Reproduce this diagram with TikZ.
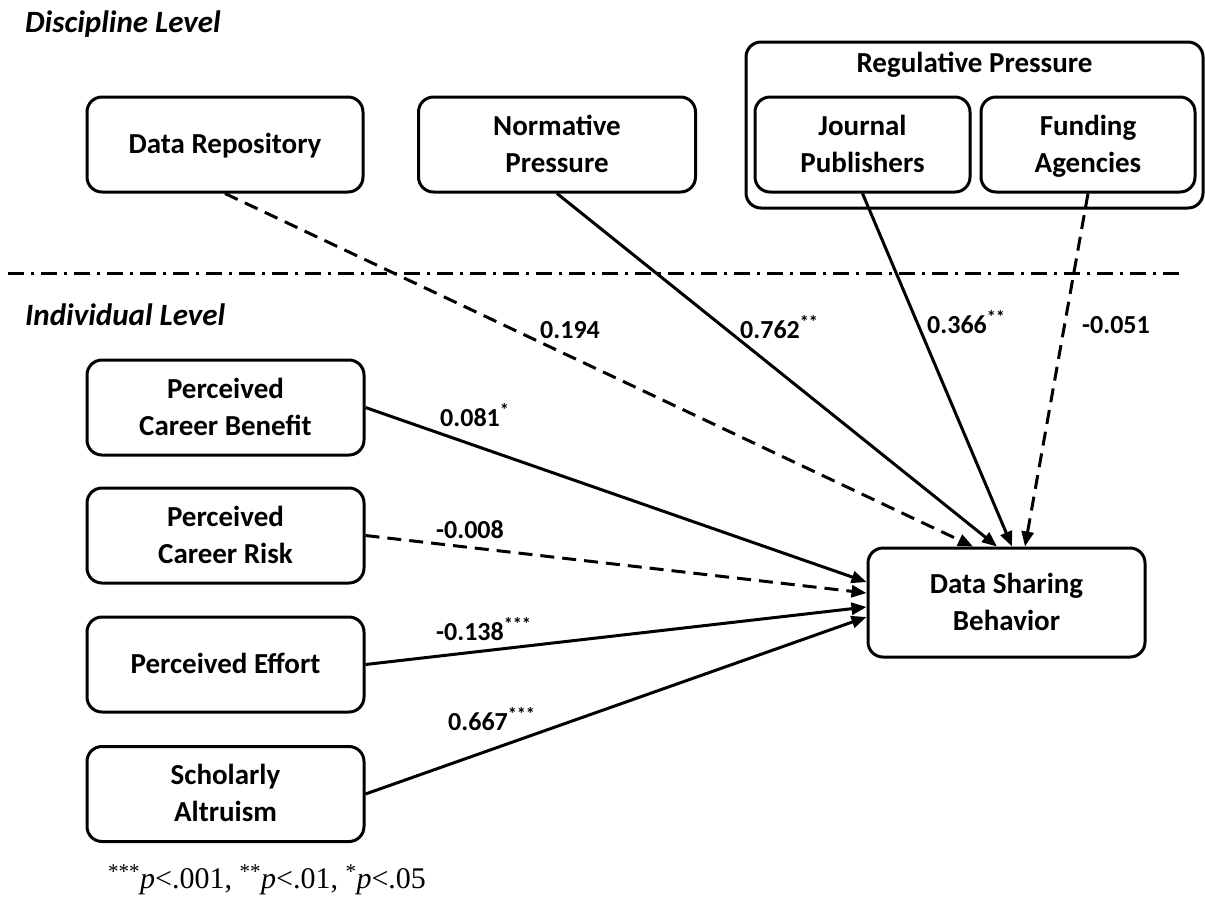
\documentclass[tikz,border=0pt]{standalone}
\usepackage{fontspec}
\setmainfont{Carlito}
\newfontfamily\notefont{Liberation Serif}
\usetikzlibrary{arrows.meta,calc}
% line strut centred on the cap height, so every box row sits alike
\newcommand\lnstrut{\rule[-8pt]{0pt}{34.6pt}}

\begin{document}
\begin{tikzpicture}[x=1pt,y=-1pt,
  box/.style={draw,line width=3pt,rounded corners=15pt,align=center,
    inner sep=0pt,font=\fontsize{29}{37}\selectfont\bfseries},
  group/.style={draw,line width=3pt,rounded corners=15pt,inner sep=0pt},
  heading/.style={anchor=base west,inner sep=0pt,font=\fontsize{31}{31}\selectfont\bfseries\itshape},
  coef/.style={anchor=base west,inner sep=0pt,font=\fontsize{26}{26}\selectfont\bfseries},
  path/.style={line width=3pt,-{Triangle[length=15pt,width=12pt]}},
  nspath/.style={path,dash pattern=on 14pt off 8pt},
  levelline/.style={line width=3pt,dash pattern=on 16pt off 7pt on 3pt off 7pt}]
\useasboundingbox (0,0) rectangle (1205,922);

% level headings and the dividing line
\node[heading] (disc) at (25,32) {Discipline Level};
\node[heading] (indiv) at (25,325) {Individual Level};
\coordinate (l1) at (8,273);
\coordinate (l2) at (1180,273);
\draw[levelline] (l1) -- (l2);

% discipline-level constructs
\node[box,minimum width=276pt,minimum height=95pt] (repo) at (225,144.5) {Data Repository\lnstrut};
\node[box,minimum width=277pt,minimum height=95pt] (norm) at (557,144.5) {Normative\lnstrut\\Pressure\lnstrut};
\node[group,minimum width=457pt,minimum height=166pt] (reg) at (974.5,125) {};
\node[inner sep=0pt,font=\fontsize{29}{37}\selectfont\bfseries] (regt) at (974.5,63) {Regulative Pressure\lnstrut};
\node[box,minimum width=215pt,minimum height=95pt] (jour) at (862.5,144.5) {Journal\lnstrut\\Publishers\lnstrut};
\node[box,minimum width=214pt,minimum height=95pt] (fund) at (1088,144.5) {Funding\lnstrut\\Agencies\lnstrut};

% individual-level constructs
\node[box,minimum width=277pt,minimum height=95pt] (bene) at (225.5,407.5) {Perceived\lnstrut\\Career Benefit\lnstrut};
\node[box,minimum width=277pt,minimum height=95pt] (risk) at (225.5,535.5) {Perceived\lnstrut\\Career Risk\lnstrut};
\node[box,minimum width=277pt,minimum height=95pt] (effo) at (225.5,664.5) {Perceived Effort\lnstrut};
\node[box,minimum width=277pt,minimum height=95pt] (altr) at (225.5,794) {Scholarly\lnstrut\\Altruism\lnstrut};

% outcome
\node[box,minimum width=277pt,minimum height=109pt] (dsb) at (1006.5,602.5) {Data Sharing\lnstrut\\Behavior\lnstrut};

% paths
\draw[nspath] (repo.south) -- ([xshift=-33.5pt]dsb.north);
\draw[path]   (norm.south) -- ([xshift=-9.5pt]dsb.north);
\draw[path]   (jour.south) -- ([xshift=5.5pt]dsb.north);
\draw[nspath] (fund.south) -- ([xshift=18.5pt]dsb.north);
\draw[path]   (bene.east) -- ([yshift=20.5pt]dsb.west);
\draw[nspath] (risk.east) -- ([yshift=9.5pt]dsb.west);
\draw[path]   (effo.east) -- ([yshift=-4.5pt]dsb.west);
\draw[path]   (altr.east) -- ([yshift=-14.5pt]dsb.west);

% path coefficients
\node[coef] (c1) at (540,338) {0.194};
\node[coef] (c2) at (740,338) {0.762\textsuperscript{**}};
\node[coef] (c3) at (927,333) {0.366\textsuperscript{**}};
\node[coef] (c4) at (1082,333) {-0.051};
\node[coef] (c5) at (440,426) {0.081\textsuperscript{*}};
\node[coef] (c6) at (436,538) {-0.008};
\node[coef] (c7) at (436,640) {-0.138\textsuperscript{***}};
\node[coef] (c8) at (448,730) {0.667\textsuperscript{***}};

% significance note
\node[anchor=base west,inner sep=0pt,font=\notefont\fontsize{30}{30}\selectfont] (note) at (108,888)
  {\textsuperscript{***}\textit{p}<.001, \textsuperscript{**}\textit{p}<.01, \textsuperscript{*}\textit{p}<.05};
\end{tikzpicture}
\end{document}
